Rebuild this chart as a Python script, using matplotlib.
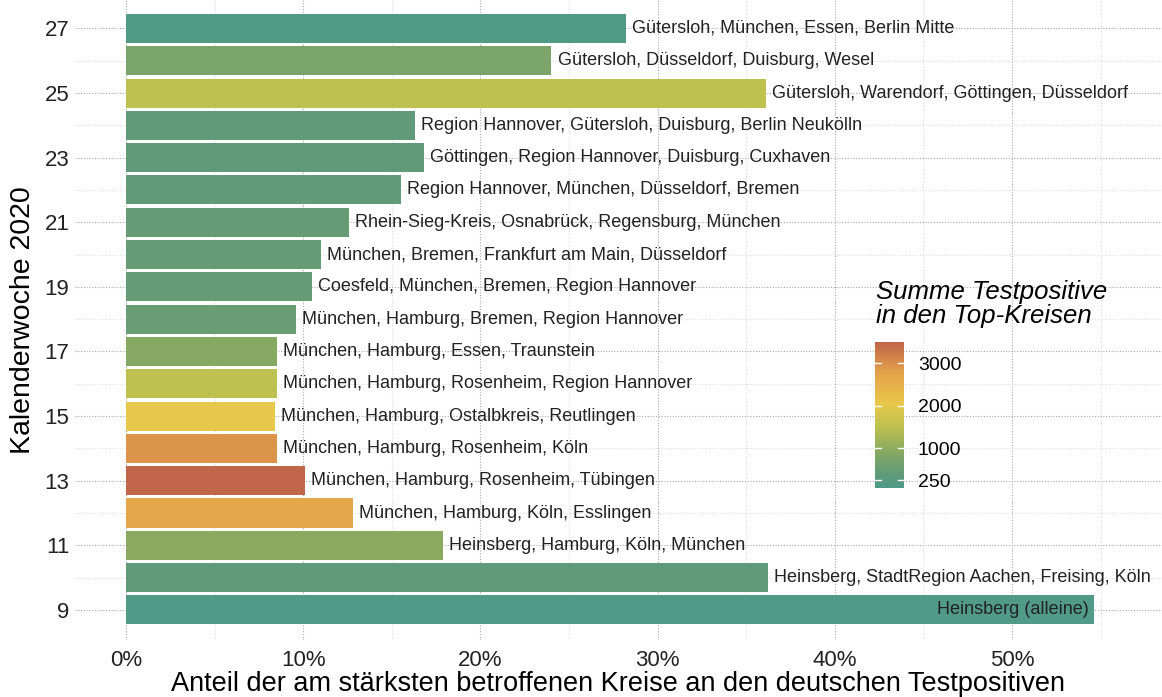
import numpy as np
import matplotlib.pyplot as plt
import matplotlib.colors as mcolors
import matplotlib.ticker as ticker

plt.rcParams['font.family'] = ['Liberation Sans', 'DejaVu Sans']

weeks = [27, 26, 25, 24, 23, 22, 21, 20, 19, 18, 17, 16, 15, 14, 13, 12, 11, 10, 9]
share = [28.2, 24.0, 36.1, 16.3, 16.8, 15.5, 12.6, 11.0, 10.5, 9.6,
         8.5, 8.5, 8.4, 8.5, 10.1, 12.8, 17.9, 36.2, 54.6]
positives = [120, 750, 1500, 380, 380, 420, 460, 460, 480, 520,
             900, 1500, 2050, 2950, 3480, 2650, 950, 400, 110]
kreise = ['Gütersloh, München, Essen, Berlin Mitte',
          'Gütersloh, Düsseldorf, Duisburg, Wesel',
          'Gütersloh, Warendorf, Göttingen, Düsseldorf',
          'Region Hannover, Gütersloh, Duisburg, Berlin Neukölln',
          'Göttingen, Region Hannover, Duisburg, Cuxhaven',
          'Region Hannover, München, Düsseldorf, Bremen',
          'Rhein-Sieg-Kreis, Osnabrück, Regensburg, München',
          'München, Bremen, Frankfurt am Main, Düsseldorf',
          'Coesfeld, München, Bremen, Region Hannover',
          'München, Hamburg, Bremen, Region Hannover',
          'München, Hamburg, Essen, Traunstein',
          'München, Hamburg, Rosenheim, Region Hannover',
          'München, Hamburg, Ostalbkreis, Reutlingen',
          'München, Hamburg, Rosenheim, Köln',
          'München, Hamburg, Rosenheim, Tübingen',
          'München, Hamburg, Köln, Esslingen',
          'Heinsberg, Hamburg, Köln, München',
          'Heinsberg, StadtRegion Aachen, Freising, Köln',
          'Heinsberg (alleine)']

vmin, vmax = 70, 3500
stops = [(70, '#4E9A88'), (400, '#619A78'), (900, '#86A862'), (1500, '#BEC050'),
         (2050, '#E8C84A'), (2800, '#E3A04A'), (3500, '#C0654A')]
cmap = mcolors.LinearSegmentedColormap.from_list(
    'kreise', [((v - vmin) / (vmax - vmin), c) for v, c in stops])
norm = mcolors.Normalize(vmin=vmin, vmax=vmax)

fig = plt.figure(figsize=(11.62, 6.97), dpi=100)
ax = fig.add_axes([0.0645, 0.0818, 0.9355, 0.9182])

ax.barh(weeks, share, height=0.9, color=cmap(norm(positives)), zorder=2)

# labels sit right of the bar, except the longest one which goes inside
for w, s, k in zip(weeks, share, kreise):
    if s > 50:
        ax.text(s - 0.3, w, k, ha='right', va='center', fontsize=13, color='#222222', zorder=3)
    else:
        ax.text(s + 0.35, w, k, ha='left', va='center', fontsize=13, color='#222222', zorder=3)

ax.set_xlim(-2.88, 58.46)
ax.set_ylim(8.07, 27.88)
ax.set_xticks(np.arange(0, 51, 10))
ax.set_xticks(np.arange(5, 56, 10), minor=True)
ax.set_yticks(np.arange(9, 28, 2))
ax.set_yticks(np.arange(10, 27, 2), minor=True)
ax.xaxis.set_major_formatter(ticker.FuncFormatter(lambda v, p: f'{v:.0f}%'))
ax.tick_params(axis='both', which='both', length=0, labelsize=16, colors='#222222', pad=4)
ax.tick_params(axis='x', pad=7)

ax.grid(which='major', color='#AAAAAA', linestyle=(0, (1, 1.5)), linewidth=0.8, zorder=0)
ax.grid(which='minor', color='#DDDDDD', linestyle=(0, (1, 1.5)), linewidth=0.8, zorder=0)
ax.set_axisbelow(True)
for sp in ax.spines.values():
    sp.set_visible(False)

ax.set_xlabel('Anteil der am stärksten betroffenen Kreise an den deutschen Testpositiven',
              fontsize=19.5, labelpad=0)
ax.set_ylabel('Kalenderwoche 2020', fontsize=20.5, labelpad=6)

# colour legend
cax = fig.add_axes([875 / 1162, 1 - 488 / 697, 29 / 1162, 146 / 697])
cb = fig.colorbar(plt.cm.ScalarMappable(norm=norm, cmap=cmap), cax=cax)
cb.set_ticks([250, 1000, 2000, 3000])
cb.outline.set_visible(False)
cax.tick_params(length=0, labelsize=14, pad=10)
for t in [250, 1000, 2000, 3000]:
    cax.plot([0, 0.22], [t, t], color='white', lw=1, transform=cax.get_yaxis_transform())
    cax.plot([0.78, 1], [t, t], color='white', lw=1, transform=cax.get_yaxis_transform())
fig.text(876 / 1162, 1 - 304 / 697, 'Summe Testpositive\nin den Top-Kreisen',
         fontsize=18.5, style='italic', ha='left', va='center', linespacing=1.0)

fig.savefig('out.png', dpi=100)
